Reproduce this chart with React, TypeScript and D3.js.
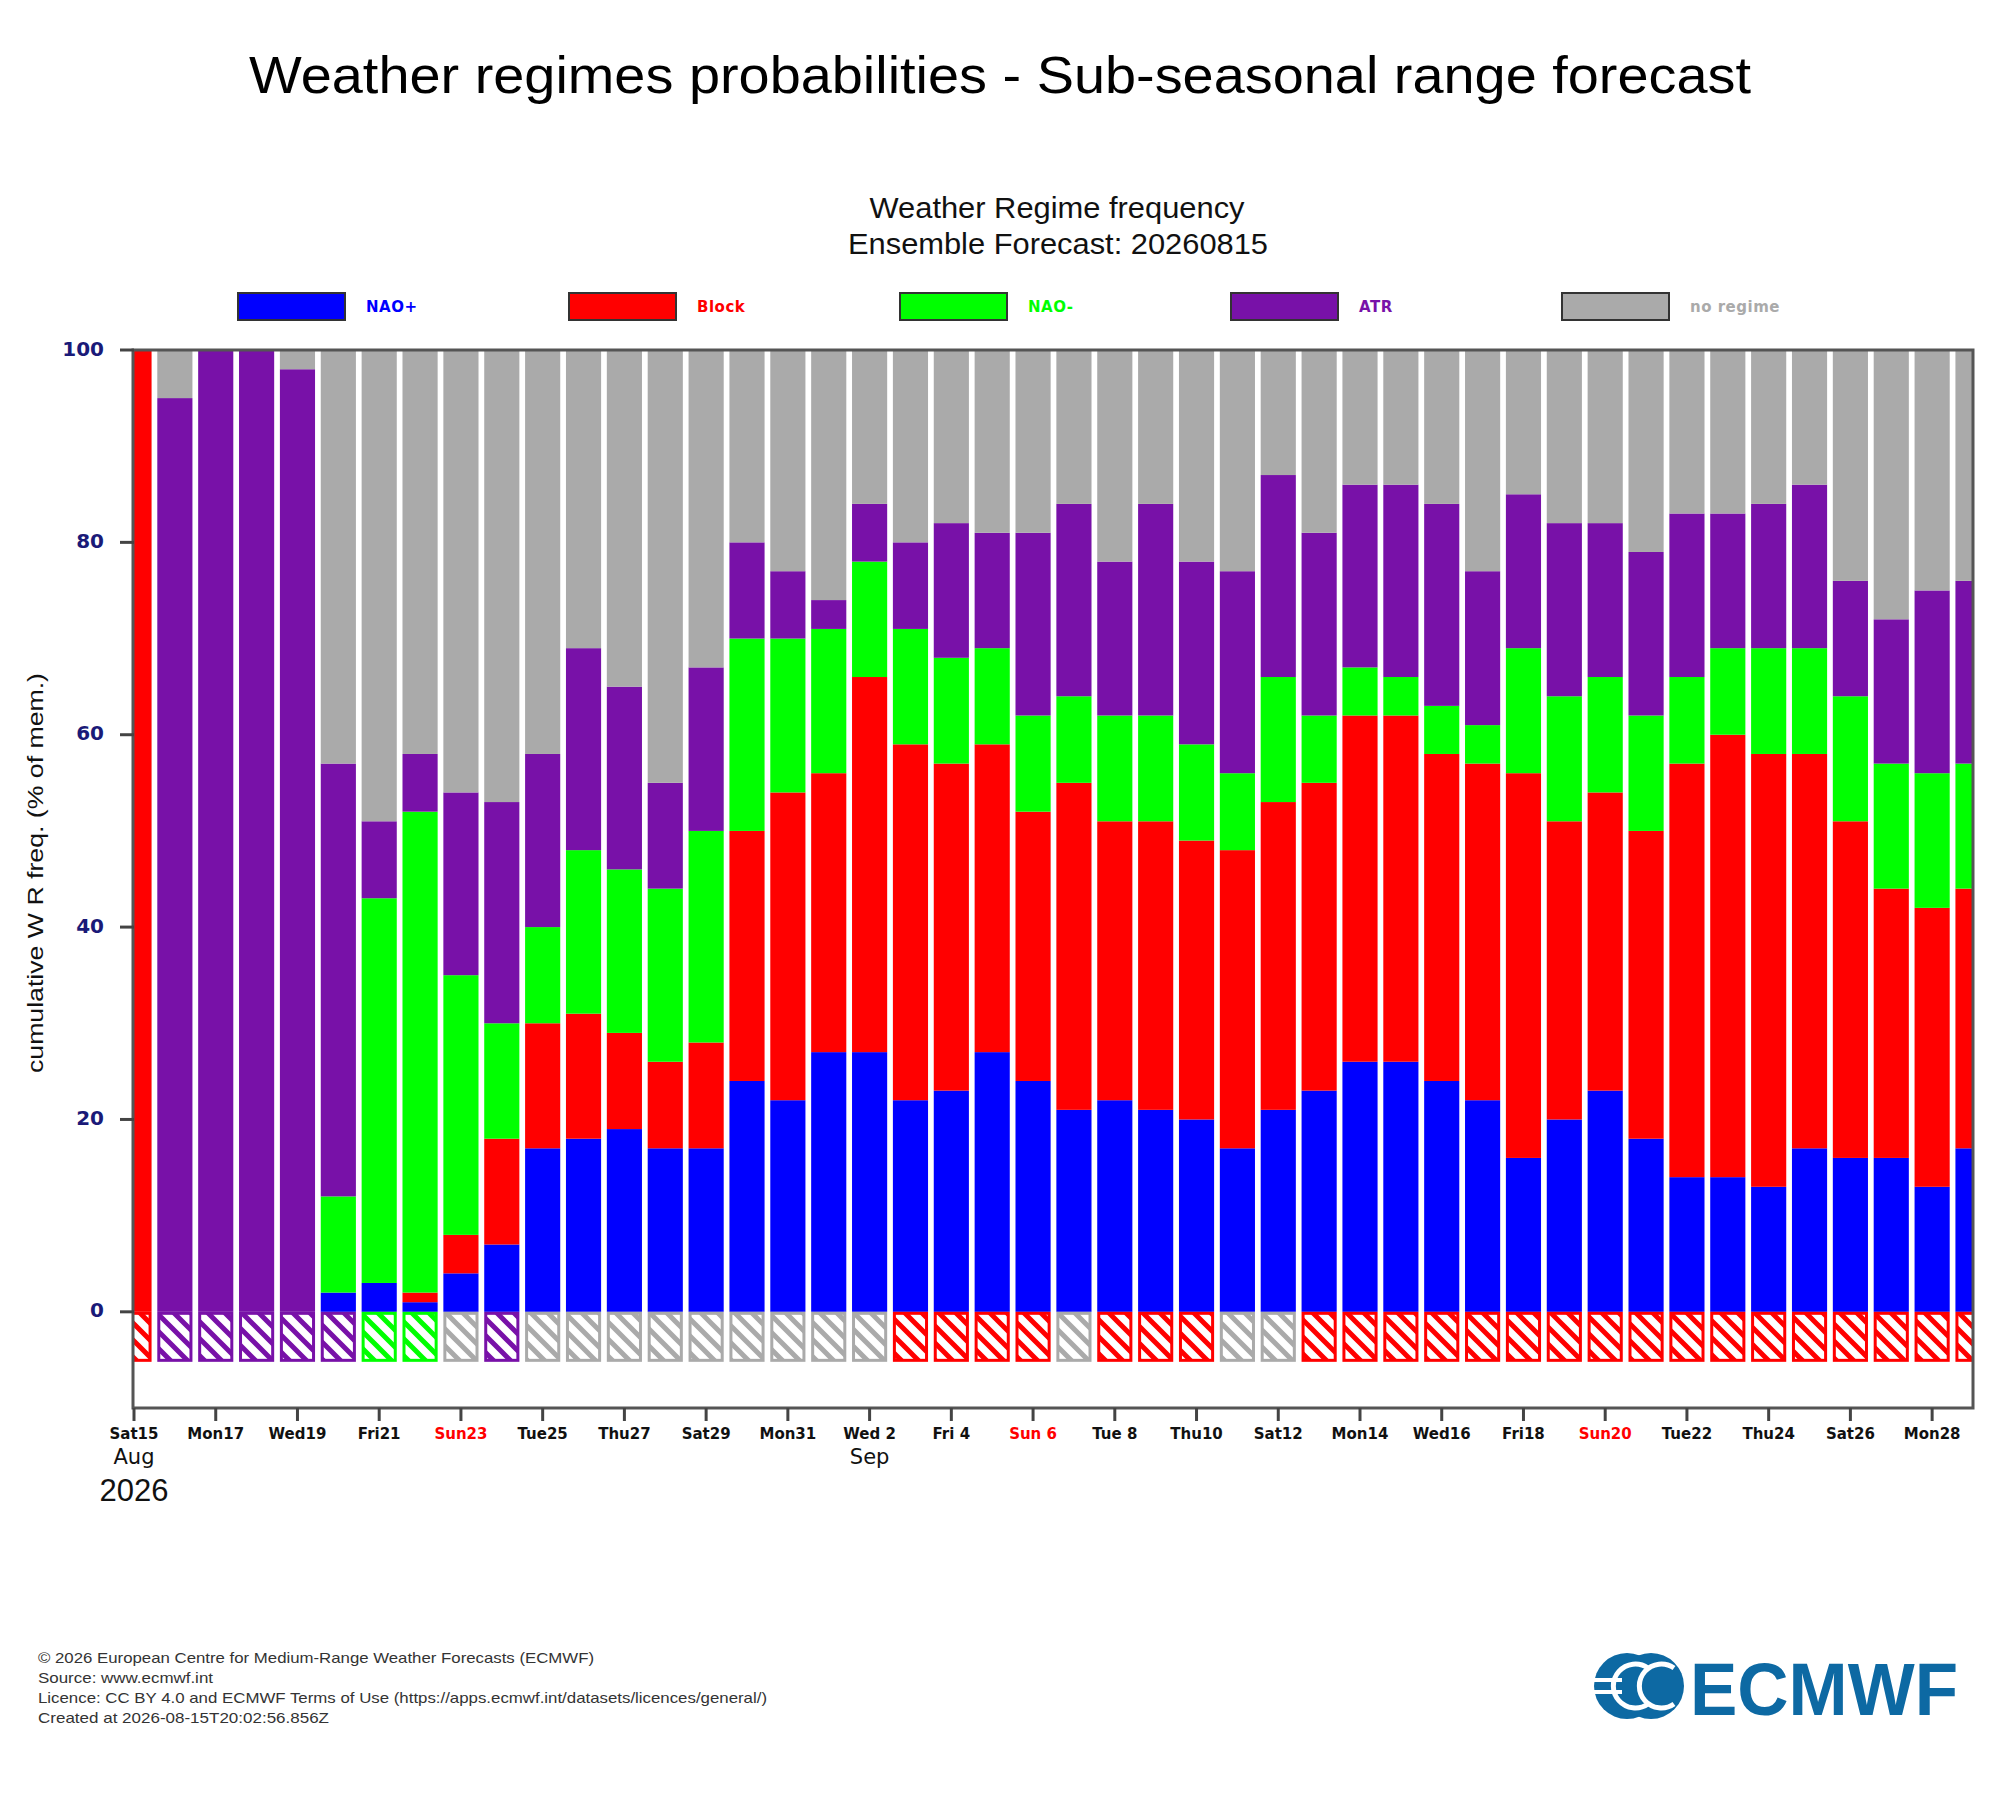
import React from "react";
import * as d3 from "d3";

// ---- data (percent of ensemble members) ----
const startDate = new Date(2026, 7, 15);
const endDate = new Date(2026, 8, 30);
const naoPlus = [0,0,0,0,0,2,3,1,4,7,17,18,19,17,17,24,22,27,27,22,23,27,24,21,22,21,20,17,21,23,26,26,24,22,16,20,23,18,14,14,13,17,16,16,13,17];
const block = [100,0,0,0,0,0,0,1,4,11,13,13,10,9,11,26,32,29,39,37,34,32,28,34,29,30,29,31,32,32,36,36,34,35,40,31,31,32,43,46,45,41,35,28,29,27];
const naoMinus = [0,0,0,0,0,10,40,50,27,12,10,17,17,18,22,20,16,15,12,12,11,10,10,9,11,11,10,8,13,7,5,4,5,4,13,13,12,12,9,9,11,11,13,13,14,13];
const atr = [0,95,100,100,98,45,8,6,19,23,18,21,19,11,17,10,7,3,6,9,14,12,19,20,16,22,19,21,21,19,19,20,21,16,16,18,16,17,17,14,15,17,12,15,19,19];
// dominant regime shown in the hatched strip below zero
const dominant = ["block","atr","atr","atr","atr","atr","naoMinus","naoMinus","none","atr",
  "none","none","none","none","none","none","none","none","none",
  "block","block","block","block","none","block","block","block","none","none",
  "block","block","block","block","block","block","block","block","block","block","block","block","block","block","block","block","block"];
const yTicks = [0, 20, 40, 60, 80, 100];

const keys = ["naoPlus", "block", "naoMinus", "atr", "none"];
const colors: Record<string, string> = {
  naoPlus: "#0000ff",
  block: "#ff0000",
  naoMinus: "#00ff00",
  atr: "#7811a8",
  none: "#aaaaaa",
};
const legendNames = ["NAO+", "Block", "NAO-", "ATR", "no regime"];

const footerLines = [
  "© 2026 European Centre for Medium-Range Weather Forecasts (ECMWF)",
  "Source: www.ecmwf.int",
  "Licence: CC BY 4.0 and ECMWF Terms of Use (https://apps.ecmwf.int/datasets/licences/general/)",
  "Created at 2026-08-15T20:02:56.856Z",
];
const footerWidths = [556, 175, 729, 291];

export default function App() {
  const W = 2000, H = 1800;
  const left = 134, right = 1973, top = 350, bottom = 1408;
  const days = d3.timeDay.range(startDate, endDate);
  const rows = days.map((d, i) => ({
    i,
    naoPlus: naoPlus[i],
    block: block[i],
    naoMinus: naoMinus[i],
    atr: atr[i],
    none: 100 - naoPlus[i] - block[i] - naoMinus[i] - atr[i],
  }));
  const stack = d3.stack<any>().keys(keys)(rows);
  const x = d3.scaleLinear().domain([0, days.length - 1]).range([left, right]);
  const y = d3.scaleLinear().domain([-10, 100]).range([bottom, top]);
  const step = x(1) - x(0);
  const bw = step * 0.86;
  const fmt = d3.timeFormat("%a%e");
  const monthFmt = d3.timeFormat("%b");

  const tickIdx = days.map((_, i) => i).filter((i) => i % 2 === 0);
  const monthLabels: { i: number; t: string }[] = [];
  let lastMonth = -1;
  tickIdx.forEach((i) => {
    const m = days[i].getMonth();
    if (m !== lastMonth) {
      monthLabels.push({ i, t: monthFmt(days[i]) });
      lastMonth = m;
    }
  });

  return (
    <svg width={W} height={H} style={{ position: "absolute", left: 0, top: 0, background: "#fff" }}>
      <defs>
        <clipPath id="plotclip">
          <rect x={left} y={top} width={right - left} height={bottom - top} />
        </clipPath>
        {keys.map((k) => (
          <pattern key={k} id={"hatch-" + k} patternUnits="userSpaceOnUse" width={17} height={17}>
            <rect width={17} height={17} fill="#fff" />
            <path d="M0,0 L17,17 M-8.5,8.5 L8.5,25.5 M8.5,-8.5 L25.5,8.5" stroke={colors[k]} strokeWidth={5} />
          </pattern>
        ))}
      </defs>

      {/* main title */}
      <text x={1000} y={93} textAnchor="middle" fontFamily="Liberation Sans, Arial, sans-serif" fontSize={52}
        textLength={1502} lengthAdjust="spacingAndGlyphs">
        Weather regimes probabilities - Sub-seasonal range forecast
      </text>
      <text x={1057} y={218} textAnchor="middle" fontFamily="Liberation Sans Narrow, Liberation Sans, sans-serif" fontSize={29}
        textLength={375} lengthAdjust="spacingAndGlyphs" fill="#111">
        Weather Regime frequency
      </text>
      <text x={1058} y={254} textAnchor="middle" fontFamily="Liberation Sans Narrow, Liberation Sans, sans-serif" fontSize={29}
        textLength={420} lengthAdjust="spacingAndGlyphs" fill="#111">
        Ensemble Forecast: 20260815
      </text>

      {/* legend */}
      {keys.map((k, i) => (
        <g key={k}>
          <rect x={238 + i * 331} y={293} width={107} height={27} fill={colors[k]} stroke="#333" strokeWidth={2} />
          <text x={366 + i * 331} y={307} dominantBaseline="middle" fontFamily="DejaVu Sans, sans-serif"
            fontWeight="bold" fontSize={15} fill={colors[k]} letterSpacing={0.5}>
            {legendNames[i]}
          </text>
        </g>
      ))}

      {/* bars */}
      <g clipPath="url(#plotclip)">
        {stack.map((layer) => (
          <g key={layer.key} fill={colors[layer.key]}>
            {layer.map((seg: any, i: number) => {
              const h = y(seg[0]) - y(seg[1]);
              if (h <= 0) return null;
              return <rect key={i} x={x(i) - bw / 2} y={y(seg[1])} width={bw} height={h} />;
            })}
          </g>
        ))}
        {dominant.map((k, i) => (
          <rect key={"h" + i} x={x(i) - bw / 2 + 1.5} y={y(0) + 1.5} width={bw - 3} height={y(-5.2) - y(0) - 3}
            fill={`url(#hatch-${k})`} stroke={colors[k]} strokeWidth={3} />
        ))}
      </g>

      {/* frame */}
      <rect x={left - 1} y={top} width={right - left + 1} height={bottom - top} fill="none" stroke="#555" strokeWidth={3} />

      {/* y axis */}
      {yTicks.map((t) => (
        <g key={t}>
          <line x1={120} x2={left} y1={y(t)} y2={y(t)} stroke="#444" strokeWidth={3} />
          <text x={104} y={y(t)} textAnchor="end" dominantBaseline="middle" fontFamily="DejaVu Sans, sans-serif"
            fontSize={20} fontWeight="bold" fill="#1a1a78">
            {t}
          </text>
        </g>
      ))}
      <text transform={`translate(37, ${873}) rotate(-90)`} textAnchor="middle" dominantBaseline="middle"
        fontFamily="Liberation Sans, Arial, sans-serif" fontSize={22} textLength={400} lengthAdjust="spacingAndGlyphs"
        fill="#111">
        cumulative W R freq. (% of mem.)
      </text>

      {/* x axis */}
      {tickIdx.map((i) => (
        <g key={i}>
          <line x1={x(i)} x2={x(i)} y1={bottom} y2={bottom + 13} stroke="#444" strokeWidth={3} />
          <text x={x(i)} y={1434} textAnchor="middle" dominantBaseline="middle" fontFamily="DejaVu Sans, sans-serif"
            fontWeight="bold" fontSize={15} fill={days[i].getDay() === 0 ? "#ff0000" : "#111"}>
            {fmt(days[i])}
          </text>
        </g>
      ))}
      {monthLabels.map((m) => (
        <text key={m.t} x={x(m.i)} y={1458} textAnchor="middle" dominantBaseline="middle"
          fontFamily="DejaVu Sans, sans-serif" fontSize={21} fill="#111">
          {m.t}
        </text>
      ))}
      <text x={x(0)} y={1493} textAnchor="middle" dominantBaseline="middle" fontFamily="Liberation Sans, Arial, sans-serif"
        fontSize={31} fill="#111">
        {d3.timeFormat("%Y")(days[0])}
      </text>

      {/* footer */}
      {footerLines.map((t, i) => (
        <text key={i} x={38} y={1663 + i * 20} fontFamily="Liberation Sans, Arial, sans-serif" fontSize={15}
          fill="#333" textLength={footerWidths[i]} lengthAdjust="spacingAndGlyphs">
          {t}
        </text>
      ))}

      {/* ECMWF logo */}
      <g fill="#0d69a3">
        <circle cx={1627} cy={1686} r={33} />
        <circle cx={1651} cy={1686} r={33} />
        <rect x={1592} y={1678} width={30} height={4} fill="#fff" />
        <rect x={1592} y={1690} width={30} height={4} fill="#fff" />
        <path d="M1674,1668 A22,22 0 1 0 1674,1704" fill="none" stroke="#fff" strokeWidth={5} />
        <path d="M1648,1668 A22,22 0 1 0 1648,1704" fill="none" stroke="#fff" strokeWidth={5} />
        <text x={1690} y={1715} fontFamily="Liberation Sans, Arial, sans-serif" fontWeight="bold" fontSize={74}
          textLength={268} lengthAdjust="spacingAndGlyphs">
          ECMWF
        </text>
      </g>
    </svg>
  );
}
